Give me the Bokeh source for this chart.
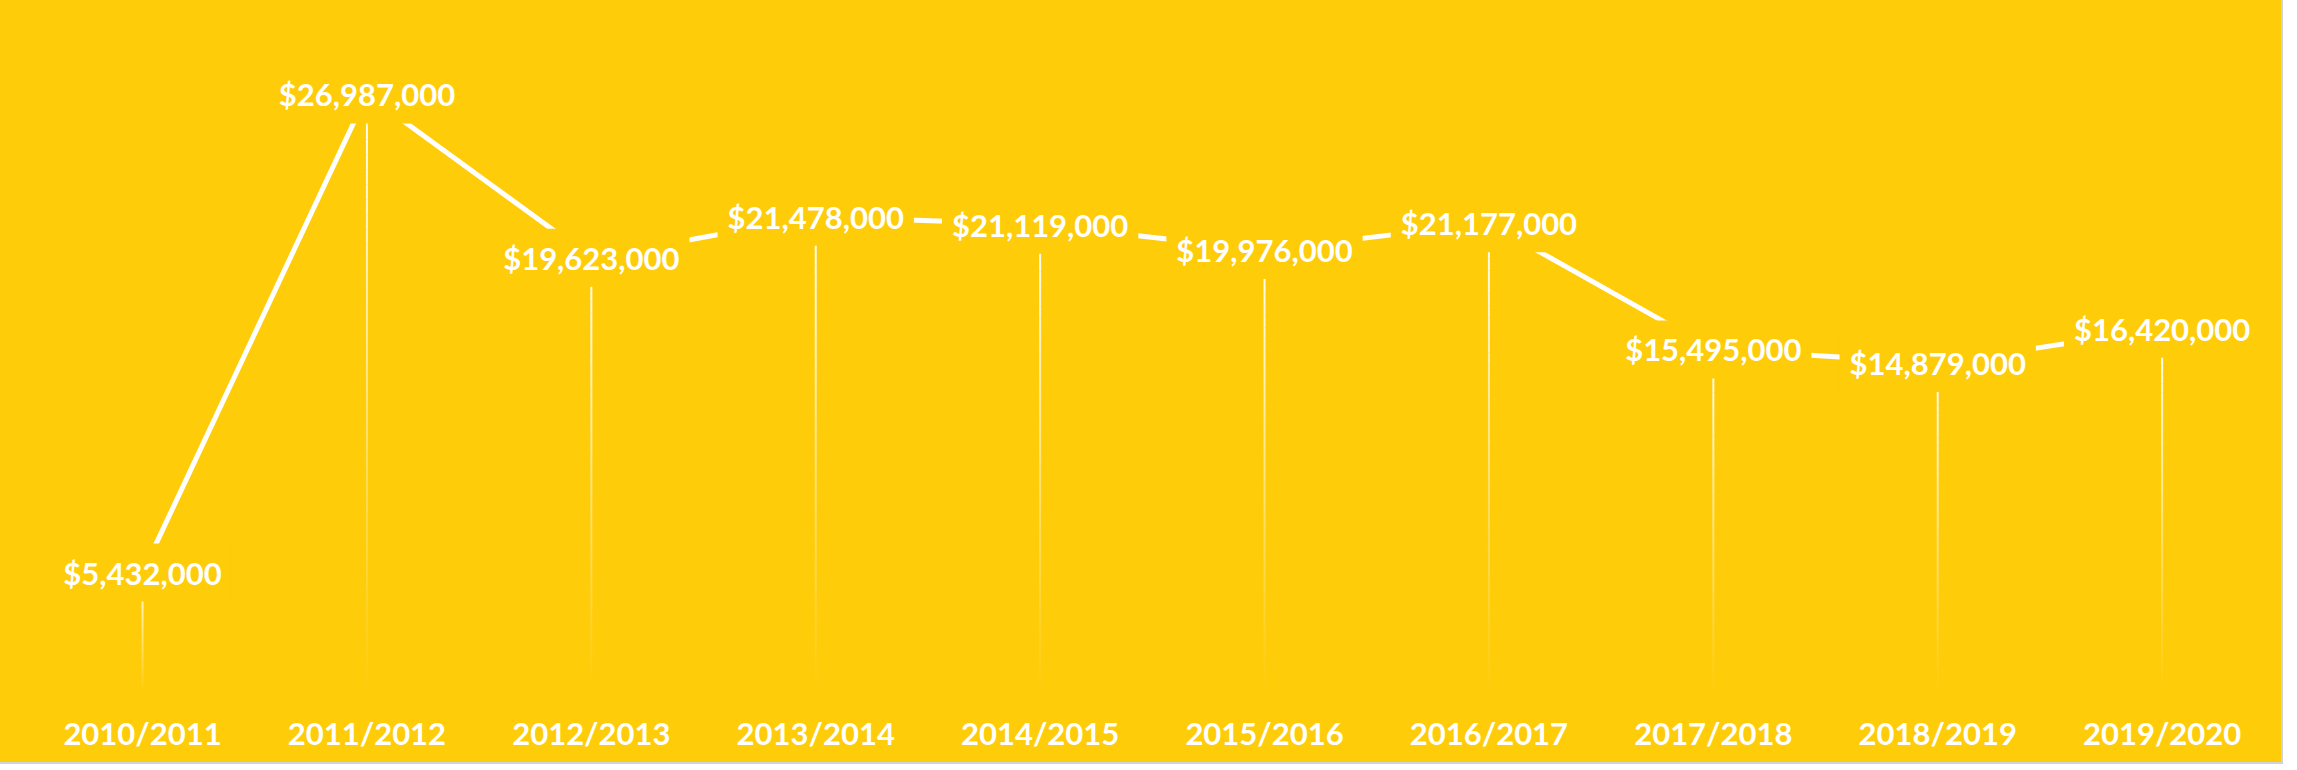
import numpy as np
from bokeh.plotting import figure
from bokeh.models import Range1d, ColumnDataSource, FixedTicker
from bokeh.core.properties import value
from bokeh.embed import file_html
from bokeh.resources import INLINE

years = ["2010/2011", "2011/2012", "2012/2013", "2013/2014", "2014/2015",
         "2015/2016", "2016/2017", "2017/2018", "2018/2019", "2019/2020"]
funding = [5432000, 26987000, 19623000, 21478000, 21119000,
           19976000, 21177000, 15495000, 14879000, 16420000]

YELLOW = "#FFCC0A"
FONT = "Lato"

idx = list(range(len(years)))
labels = ["${:,}".format(v) for v in funding]

p = figure(width=2281, height=762, output_backend="svg", toolbar_location=None,
           x_range=Range1d(-0.633, 9.532), y_range=Range1d(-200000, 31225000),
           min_border_left=0, min_border_right=0, min_border_top=0, min_border_bottom=65)
p.background_fill_alpha = 0
p.border_fill_alpha = 0
p.outline_line_color = None
p.grid.visible = False
p.yaxis.visible = False
p.styles = {"background-color": YELLOW, "outline": "2px solid #CDD2DC"}

ax = p.xaxis[0]
ax.ticker = FixedTicker(ticks=idx)
ax.major_label_overrides = {i: y for i, y in zip(idx, years)}
ax.axis_line_color = None
ax.major_tick_line_color = None
ax.minor_tick_line_color = None
ax.major_tick_out = 0
ax.major_tick_in = 0
ax.major_label_standoff = 16
ax.major_label_text_color = "white"
ax.major_label_text_font = FONT
ax.major_label_text_font_style = "bold"
ax.major_label_text_font_size = "31px"

# fading drop lines from each value down to zero
N = 40
x0s, y0s, x1s, y1s, alphas = [], [], [], [], []
for i, v in zip(idx, funding):
    for k in range(N):
        t0, t1 = k / N, (k + 1) / N
        x0s.append(i); x1s.append(i)
        y0s.append(v * (1 - t0)); y1s.append(v * (1 - t1))
        alphas.append(max(0.0, 1 - t0) ** 1.1)
p.segment(x0=x0s, y0=y0s, x1=x1s, y1=y1s, line_color="white", line_width=2,
          line_alpha=alphas)

p.line(idx, funding, line_color="white", line_width=5)

src = ColumnDataSource(dict(x=idx, y=funding, t=labels))
p.text(x="x", y="y", text="t", source=src, text_color="white",
       text_font=value(FONT), text_font_style="bold", text_font_size="31px",
       text_align="center", text_baseline="middle",
       background_fill_color=YELLOW, padding=10)

html = file_html(p, INLINE)
html = html.replace("<body>", '<body style="background-color:#FFF8CC;">', 1)
open("out.html", "w").write(html)
